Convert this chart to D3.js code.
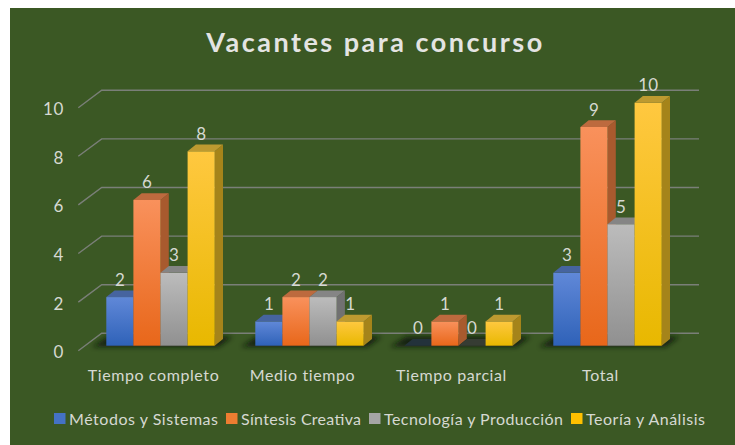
<!DOCTYPE html>
<html><head><meta charset="utf-8">
<script src="https://cdn.jsdelivr.net/npm/d3@7"></script>
<style>html,body{margin:0;padding:0;background:#fff}svg{display:block}text{font-family:Lato,"Open Sans",sans-serif}</style>
</head><body><svg id="c" width="735" height="445"></svg>
<script>
const title = "Vacantes para concurso";
const categories = ["Tiempo completo","Medio tiempo","Tiempo parcial","Total"];
const seriesNames = ["Métodos y Sistemas","Síntesis Creativa","Tecnología y Producción","Teoría y Análisis"];
const metodos = [2,1,0,3];
const sintesis = [6,2,1,9];
const tecnologia = [3,2,0,5];
const teoria = [8,1,1,10];
const yTicks = [0,2,4,6,8,10];
const palette = [
 {lt:"#6088d8",dk:"#2f62b8",top:"#46649f",side:"#2c4d8a",sw:"#4472c4"},
 {lt:"#f9915c",dk:"#e8671a",top:"#bd6a3e",side:"#a85a2e",sw:"#ed7d31"},
 {lt:"#bcbcbc",dk:"#909090",top:"#858585",side:"#717171",sw:"#a5a5a5"},
 {lt:"#ffc840",dk:"#e8b800",top:"#bd9a30",side:"#a5841a",sw:"#ffc000"}
];
const allSeries = [metodos,sintesis,tecnologia,teoria];
const textColor = "#d6d9d2";
const legendTextWidths = [149,120,179,119];

const svg = d3.select("#c");
const DX = 8.3, DY = 6.7;           // bar depth
const BACK_X = 23.4;                // wall depth
const y = d3.scaleLinear().domain([0,10]).range([345.7,102.7]);
const x0 = d3.scaleBand().domain(categories).range([86,682]);
const x1 = d3.scaleBand().domain(seriesNames).range([0,108.4]);
const fy = v => y(v)+5;
const by = v => y(v)-12.4;

svg.append("rect").attr("x",10).attr("y",8).attr("width",725).attr("height",437).attr("fill","#3b5824");

const defs = svg.append("defs");
palette.forEach((p,i)=>{
  const g = defs.append("linearGradient").attr("id","g"+i).attr("x1",0).attr("x2",0).attr("y1",0).attr("y2",1);
  g.append("stop").attr("offset",0).attr("stop-color",p.lt);
  g.append("stop").attr("offset",1).attr("stop-color",p.dk);
});
defs.append("filter").attr("id","blur").attr("x","-10%").attr("y","-100%").attr("width","120%").attr("height","300%")
  .append("feGaussianBlur").attr("stdDeviation",2.4);

// title
svg.append("text").attr("x",375.5).attr("y",52).attr("text-anchor","middle")
  .attr("font-size",27).attr("font-weight",700).attr("letter-spacing",2.5).attr("fill","#e4e4e2").text(title);

// gridlines
const gridG = svg.append("g").attr("stroke","#7a7f78").attr("stroke-width",1.4).attr("fill","none");
yTicks.forEach(t=>{
  gridG.append("path").attr("d",d3.line()([[78.3,fy(t)],[78.3+BACK_X,by(t)],[699,by(t)]]));
});

// y axis labels
svg.append("g").selectAll("text").data(yTicks).join("text")
  .attr("x",64).attr("y",d=>fy(d)+7.5).attr("text-anchor","end").attr("font-size",17)
  .attr("letter-spacing",0.6).attr("fill",textColor).text(d=>d);

// shadows
categories.forEach(c=>{
  const xs = x0(c)+(x0.bandwidth()-x1.range()[1])/2;
  svg.append("path").attr("fill","#10180a").attr("opacity",0.85).attr("filter","url(#blur)")
    .attr("d",d3.line()([[xs-14,y(0)+1],[xs+2,y(0)-9],[xs+126,y(0)-9],[xs+112,y(0)+1]]));
});

// bars
const labels = [];
categories.forEach((c,ci)=>{
  const xs = x0(c)+(x0.bandwidth()-x1.range()[1])/2;
  seriesNames.forEach((s,si)=>{
    const v = allSeries[si][ci], p = palette[si];
    const l = xs+x1(s), w = x1.bandwidth(), t = y(v), b = y(0);
    const g = svg.append("g");
    if (v>0) {
      g.append("path").attr("fill",p.side).attr("d",d3.line()([[l+w,t],[l+w+DX,t-DY],[l+w+DX,b-DY],[l+w,b]]));
      g.append("rect").attr("x",l).attr("y",t).attr("width",w).attr("height",b-t).attr("fill",`url(#g${si})`);
    }
    g.append("path").attr("fill",v>0?p.top:d3.interpolateRgb(p.top,"#141c10")(0.7))
      .attr("d",d3.line()([[l,t],[l+DX,t-DY],[l+w+DX,t-DY],[l+w,t]]));
    labels.push({x:l+w/2,y:t-11.5,v});
  });
});

// data labels
svg.append("g").selectAll("text").data(labels).join("text")
  .attr("x",d=>d.x).attr("y",d=>d.y).attr("text-anchor","middle").attr("font-size",17)
  .attr("fill",textColor).text(d=>d.v);

// category labels
svg.append("g").selectAll("text").data(categories).join("text")
  .attr("x",d=>x0(d)+x0.bandwidth()/2-7).attr("y",381).attr("text-anchor","middle")
  .attr("font-size",16).attr("letter-spacing",0.6).attr("fill",textColor).text(d=>d);

// legend
let lx = 54;
seriesNames.forEach((s,i)=>{
  svg.append("rect").attr("x",lx).attr("y",413).attr("width",11.5).attr("height",11).attr("fill",palette[i].sw);
  svg.append("text").attr("x",lx+15).attr("y",424.5).attr("font-size",16)
    .attr("textLength",legendTextWidths[i]).attr("lengthAdjust","spacing")
    .attr("fill",textColor).text(s);
  lx += 15 + legendTextWidths[i] + 8;
});
</script></body></html>
